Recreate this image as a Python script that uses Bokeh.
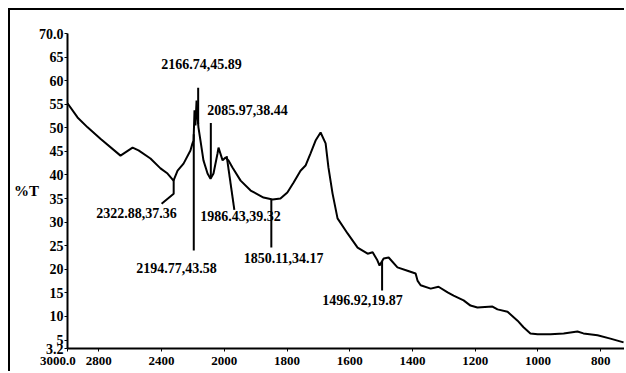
import numpy as np
from bokeh.plotting import figure
from bokeh.models import Range1d, FixedTicker, InlineStyleSheet
from bokeh.embed import file_html
from bokeh.resources import INLINE
from bokeh.core.properties import value

# ---- spectrum (wavenumber cm-1, %T) ----
wavenumber = [3000, 2936, 2872, 2790, 2662, 2585, 2547, 2471, 2407, 2362, 2324, 2298, 2260, 2216,
              2203, 2196, 2190, 2184, 2177, 2171, 2165, 2152, 2133, 2107, 2088, 2069, 2043, 2037,
              2011, 1996, 1987, 1974, 1948, 1916, 1875, 1846, 1821, 1799, 1779, 1757, 1741, 1725,
              1709, 1693, 1677, 1668, 1655, 1639, 1607, 1575, 1543, 1527, 1512, 1505, 1492, 1476,
              1448, 1416, 1390, 1384, 1374, 1342, 1317, 1288, 1269, 1237, 1215, 1193, 1145, 1129,
              1097, 1065, 1046, 1024, 1001, 960, 918, 874, 855, 810, 769, 727]
transmittance = [55.2, 52.2, 50.1, 47.7, 44.1, 45.8, 45.2, 43.5, 41.4, 40.3, 38.8, 40.9, 42.4, 45.2,
                 46.7, 47.3, 53.7, 50.5, 55.8, 52.6, 50.1, 47.3, 43.1, 40.3, 39.2, 40.3, 44.6, 45.8,
                 43.1, 43.7, 43.1, 41.6, 38.8, 36.7, 35.2, 34.8, 35.0, 36.3, 38.4, 40.9, 42.0, 44.6,
                 47.3, 49.0, 46.7, 41.6, 36.1, 30.8, 27.6, 24.6, 23.3, 23.6, 21.9, 20.8, 22.3, 22.5,
                 20.4, 19.7, 19.1, 17.6, 16.6, 15.9, 16.3, 15.1, 14.4, 13.4, 12.3, 11.9, 12.1, 11.5,
                 11.0, 9.1, 7.7, 6.4, 6.2, 6.2, 6.4, 6.8, 6.4, 6.0, 5.3, 4.5]

# ---- peak annotations ----
peak_wn = [2166.74, 2085.97, 2322.88, 2194.77, 1986.43, 1850.11, 1496.92]
peak_t = [45.89, 38.44, 37.36, 43.58, 39.32, 34.17, 19.87]

# ---- ticks ----
x_tick_values = [3000, 2800, 2400, 2000, 1800, 1600, 1400, 1200, 1000, 800]
x_tick_labels = ["3000.0", "2800", "2400", "2000", "1800", "1600", "1400", "1200", "1000", "800"]
y_tick_values = [3.2, 5, 10, 15, 20, 25, 30, 35, 40, 45, 50, 55, 60, 65, 70]
y_tick_labels = ["3.2", "5", "10", "15", "20", "25", "30", "35", "40", "45", "50", "55", "60", "65", "70.0"]

# layout of annotation texts / leaders (wavenumber, %T)
label_wn = [2145, 1926, 2560, 2305, 1948, 1811, 1559]
label_t = [63.6, 53.7, 32.0, 20.2, 31.4, 22.3, 13.4]
leader_end_t = [58.5, 51.0, None, 24.0, None, 24.6, 15.5]


def scale_x(w):
    """IR chart axis: region above 2000 cm-1 is compressed 2:1."""
    w = np.asarray(w, dtype=float)
    return np.where(w > 2000, 2000 + (w - 2000) / 2.0, w)


FONT = "Liberation Serif"

p = figure(width=616, height=363, x_range=Range1d(float(scale_x(3000)), 724),
           y_range=Range1d(3.2, 70), output_backend="svg", toolbar_location=None,
           min_border_left=57, min_border_right=2, min_border_top=23, min_border_bottom=25)
p.stylesheets = [InlineStyleSheet(css=":host { margin: 8px 0 0 8px; border-top: 2px solid black; "
                                      "border-left: 2px solid black; }")]
p.outline_line_color = None
p.xgrid.visible = False
p.ygrid.visible = False
p.background_fill_color = "white"
p.border_fill_color = "white"

p.line(scale_x(wavenumber), transmittance, line_color="black", line_width=2)

# leader lines
wn_inc = np.array(wavenumber[::-1], dtype=float)
t_inc = np.array(transmittance[::-1], dtype=float)
xs, ys = [], []
for w, end in zip(peak_wn, leader_end_t):
    yc = float(np.interp(w, wn_inc, t_inc))
    if end is not None:
        xs.append(list(scale_x([w, w])))
        ys.append([yc, end])
    elif w > 2300:
        xs.append(list(scale_x([w, w, 2400])))
        ys.append([yc, 36.0, 33.9])
    else:
        xs.append(list(scale_x([w + 6, 1968])))
        ys.append([44.0, 32.6])
p.multi_line(xs, ys, line_color="black", line_width=2)

texts = [f"{w:.2f},{t:.2f}" for w, t in zip(peak_wn, peak_t)]
p.text(x=scale_x(label_wn), y=label_t, text=texts, text_font=value(FONT), text_font_style="bold",
       text_font_size="14px", text_align="center", text_baseline="middle", text_color="black")

yax = p.yaxis[0]
yax.axis_label = "%T"
yax.axis_label_text_font = FONT
yax.axis_label_text_font_style = "bold"
yax.axis_label_text_font_size = "15px"
yax.axis_label_text_color = "black"
yax.axis_label_standoff = -3
if "axis_label_orientation" in yax.properties():
    yax.axis_label_orientation = "horizontal"

x_labels = list(x_tick_labels)
x_labels[0] = x_labels[0] + "\u2007\u2007\u2007"
p.xaxis.ticker = FixedTicker(ticks=list(scale_x(x_tick_values)))
p.xaxis.major_label_overrides = {float(v): s for v, s in zip(scale_x(x_tick_values), x_labels)}
p.yaxis.ticker = FixedTicker(ticks=y_tick_values)
p.yaxis.major_label_overrides = {v: s for v, s in zip(y_tick_values, y_tick_labels)}

for ax in (p.xaxis, p.yaxis):
    ax.axis_line_width = 2
    ax.axis_line_color = "black"
    ax.major_tick_line_color = "black"
    ax.major_tick_out = 3
    ax.major_tick_in = 0
    ax.minor_tick_line_color = None
    ax.major_label_text_font = FONT
    ax.major_label_text_font_style = "bold"
    ax.major_label_text_font_size = "13px"
    ax.major_label_text_color = "black"
    ax.major_label_standoff = 1
p.yaxis.major_label_text_font_size = "14px"

open("out.html", "w").write(file_html(p, INLINE))
